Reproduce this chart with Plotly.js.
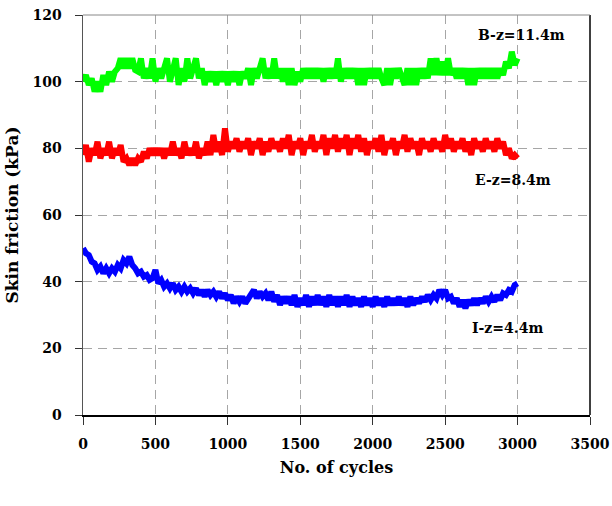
<!DOCTYPE html>
<html>
<head>
<meta charset="utf-8">
<script src="https://cdn.plot.ly/plotly-3.0.1.min.js"></script>
<style>html,body{margin:0;padding:0;background:#fff;}#chart{width:612px;height:506px;}</style>
</head>
<body>
<div id="chart"></div>
<script>
// No. of cycles (sampling points)
const cycles = [
0,20,40,60,80,100,120,140,160,180,
200,220,240,260,280,300,320,340,360,380,
400,420,440,460,480,500,520,540,560,580,
600,620,640,660,680,700,720,740,760,780,
800,820,840,860,880,900,920,940,960,980,
1000,1020,1040,1060,1080,1100,1120,1140,1160,1180,
1200,1220,1240,1260,1280,1300,1320,1340,1360,1380,
1400,1420,1440,1460,1480,1500,1520,1540,1560,1580,
1600,1620,1640,1660,1680,1700,1720,1740,1760,1780,
1800,1820,1840,1860,1880,1900,1920,1940,1960,1980,
2000,2020,2040,2060,2080,2100,2120,2140,2160,2180,
2200,2220,2240,2260,2280,2300,2320,2340,2360,2380,
2400,2420,2440,2460,2480,2500,2520,2540,2560,2580,
2600,2620,2640,2660,2680,2700,2720,2740,2760,2780,
2800,2820,2840,2860,2880,2900,2920,2940,2960,2980,
3000];

// B-z=11.4m skin friction (kPa)
const frictionB = [
100,102,99,101,97,100,97,102,99,103,
100,103,104,107,104,107,104,107,103.5,103,
107,101,104,101,107,100,104,101,104,107,
100,104,107,99,104,100,107,101,104,107,
101,104,99,103,100,103,99,103,100,103,
99,103,100,103,99,103,101,104,99,104,
101,104,107,101,104,101,107,101,104,100,
104,99,104,99,103,100,104,101,104,101,
104,101,104,100,104,101,104,101,107,100,
104,101,104,101,104,99,104,99,104,101,
104,101,104,101,99,104,99,104,101,104,
101,99,104,99,104,99,104,101,104,101,
107,102,107,102,106,102,107,102,104,101,
104,101,104,99,104,99,104,101,104,101,
104,101,104,101,104,102,106,104,109,105,
107];

// E-z=8.4m skin friction (kPa)
const frictionE = [
78,81,76,80,78,82,77,80,78,82,
77,80,78,81,76,77,75,77,75,77,
76,79,77,80,78,80,78,80,77,80,
78,82,78,80,77,82,78,80,78,82,
77,80,78,82,78,84,79,82,78,86,
79,82,80,83,79,82,80,83,78,82,
80,83,78,82,79,83,80,82,79,83,
80,84,78,82,80,83,78,82,80,84,
79,82,80,84,78,83,80,84,79,83,
80,84,78,83,80,84,79,83,78,82,
80,83,79,84,78,82,80,83,78,82,
80,84,79,83,80,82,78,83,80,82,
79,83,80,82,79,84,80,83,79,82,
80,83,79,82,78,83,80,82,79,83,
80,82,79,83,80,82,78,80,77,78,
77];

// I-z=4.4m skin friction (kPa)
const frictionI = [
50,48.5,48,46,45.5,43.5,44.5,42.5,44,42.5,
44,43,45,44,46.5,45.5,47.5,45,44,42.5,
43,41.5,42,40.5,41,43.5,39.5,40.5,38.5,39.5,
38,39.5,37.5,38.5,37,38.5,37,38,36.5,38,
36,37.5,35.5,37.5,36,37,35.5,37,35,36.5,
34.5,36,33.5,35.5,34,35.5,33.5,35,36,37.5,
35,37,35.5,36.5,34.5,37,34,36,33,35.5,
33.5,35.5,33,36,32.5,35,33,36,32.5,35.5,
33,36,33,35.5,32.5,36,33,35.5,32.5,35.5,
33,36,32.5,35.5,33,35,32.5,35.5,33,35,
32.5,35.5,33,35,32.5,35.5,33,35,33,35.5,
33,35,32.5,35.5,33,35,33.5,35.5,34,36,
34.5,36,35,37.5,36,37.5,35,35.5,33.5,35,
32.5,34.5,32,34.5,33,35,33,35,33.5,35.5,
34,35.5,34,36,34.5,36.5,36,37.5,37,39,
39.5];

const seriesNames = ['B-z=11.4m', 'E-z=8.4m', 'I-z=4.4m'];
const xTicks = [0,500,1000,1500,2000,2500,3000,3500];
const yTicks = [0,20,40,60,80,100,120];

const FONT = 'DejaVu Serif, Liberation Serif, serif';

const traces = [
  {x: cycles, y: frictionB, name: seriesNames[0], mode: 'lines', line: {color: '#00ff00', width: 6}},
  {x: cycles, y: frictionE, name: seriesNames[1], mode: 'lines', line: {color: '#ff0000', width: 6}},
  {x: cycles, y: frictionI, name: seriesNames[2], mode: 'lines', line: {color: '#0000ff', width: 6}}
];

const layout = {
  width: 612, height: 506,
  margin: {l: 83, r: 22, t: 15, b: 91},
  paper_bgcolor: '#ffffff', plot_bgcolor: '#ffffff',
  showlegend: false,
  font: {family: FONT, size: 14, color: '#000'},
  xaxis: {
    range: [0, 3500], tickvals: xTicks, ticktext: xTicks.map(String),
    showgrid: true, gridcolor: '#a6a6a6', griddash: '9px,6px', gridwidth: 1,
    zeroline: false, showline: true, linecolor: '#000', linewidth: 1.5,
    ticks: 'outside', ticklen: 8, tickcolor: '#333', ticklabelstandoff: 8,
    tickfont: {family: FONT, size: 14, weight: 'bold'},
    title: {text: 'No. of cycles', font: {family: FONT, size: 16, weight: 'bold'}, standoff: 10}
  },
  yaxis: {
    range: [0, 120], tickvals: yTicks, ticktext: yTicks.map(String),
    showgrid: true, gridcolor: '#a6a6a6', griddash: '9px,6px', gridwidth: 1,
    zeroline: false, showline: true, linecolor: '#555', linewidth: 1.5,
    ticks: 'outside', ticklen: 7, tickcolor: '#333', ticklabelstandoff: 10,
    tickfont: {family: FONT, size: 14, weight: 'bold'},
    title: {text: 'Skin friction (kPa)', font: {family: FONT, size: 17, weight: 'bold'}, standoff: 9}
  },
  shapes: [
    {type: 'line', xref: 'paper', yref: 'paper', x0: 1, x1: 1, y0: 0, y1: 1, line: {color: '#000', width: 1.5}},
    {type: 'line', xref: 'paper', yref: 'paper', x0: 0, x1: 1, y0: 1, y1: 1, line: {color: '#888', width: 1}}
  ],
  annotations: [
    {x: 3030, y: 114, xref: 'x', yref: 'y', text: seriesNames[0], showarrow: false, font: {family: FONT, size: 14, weight: 'bold'}},
    {x: 2967, y: 70.5, xref: 'x', yref: 'y', text: seriesNames[1], showarrow: false, font: {family: FONT, size: 14, weight: 'bold'}},
    {x: 2933, y: 26.1, xref: 'x', yref: 'y', text: seriesNames[2], showarrow: false, font: {family: FONT, size: 14, weight: 'bold'}}
  ]
};

Plotly.newPlot('chart', traces, layout, {displayModeBar: false, staticPlot: true});
</script>
</body>
</html>
